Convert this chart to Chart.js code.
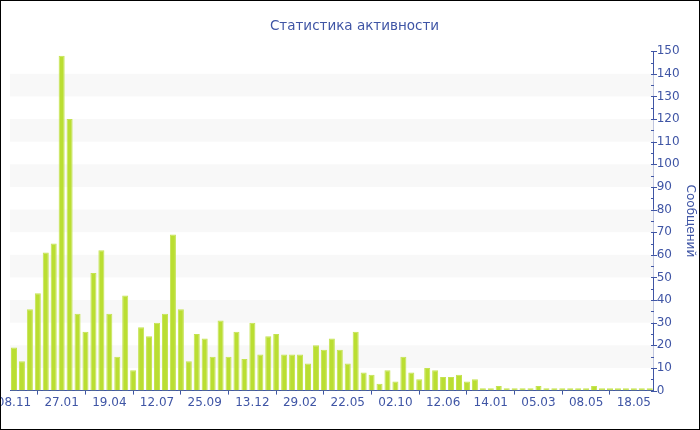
<!DOCTYPE html>
<html>
<head>
<meta charset="utf-8">
<script src="https://cdn.jsdelivr.net/npm/chart.js@4.4.1/dist/chart.umd.min.js"></script>
<style>
  html, body { margin: 0; padding: 0; background: #fff; }
  #wrap { width: 700px; height: 430px; border: 1px solid #000; box-sizing: border-box; }
  canvas { display: block; }
</style>
</head>
<body>
<div id="wrap"><canvas id="myChart" width="698" height="428"></canvas></div>
<script>
// visible tick labels, one every 6 categories
var tickLabels = ['08.11', '27.01', '19.04', '12.07', '25.09', '13.12', '29.02',
                  '22.05', '02.10', '12.06', '14.01', '05.03', '08.05', '18.05'];
// messages per period
var messages = [19, 13, 36, 43, 61, 65, 148, 120, 34, 26, 52, 62, 34, 15, 42, 9, 28, 24, 30, 34,
                69, 36, 13, 25, 23, 15, 31, 15, 26, 14, 30, 16, 24, 25, 16, 16, 16, 12, 20, 18,
                23, 18, 12, 26, 8, 7, 3, 9, 4, 15, 8, 5, 10, 9, 6, 6, 7, 4, 5, 1,
                1, 2, 1, 1, 1, 1, 2, 1, 1, 1, 1, 1, 1, 2, 1, 1, 1, 1, 1, 1, 1];
var labelEvery = 6;

var blue = '#3f55a5';
var labels = messages.map(function (v, i) {
  return i % labelEvery === 0 ? tickLabels[i / labelEvery] : '';
});

// grey bands every other 10 messages
var bands = {
  id: 'bands',
  beforeDatasetsDraw(chart) {
    var ctx = chart.ctx, area = chart.chartArea, y = chart.scales.y;
    ctx.save();
    ctx.fillStyle = '#f8f8f8';
    for (var v = 10; v < 150; v += 20) {
      var top = y.getPixelForValue(v + 10), bot = y.getPixelForValue(v);
      ctx.fillRect(area.left, top, area.right - area.left, bot - top);
    }
    ctx.restore();
  }
};

// tick marks on the right axis: long ones at tens, short ones at fives
var yTicks = {
  id: 'yTicks',
  afterDraw(chart) {
    var ctx = chart.ctx, y = chart.scales.y, x0 = Math.round(chart.chartArea.right);
    ctx.save();
    ctx.strokeStyle = blue;
    ctx.lineWidth = 1;
    for (var v = 0; v <= 150; v += 5) {
      var py = Math.round(y.getPixelForValue(v)) + 0.5;
      ctx.beginPath();
      if (v % 10 === 0) { ctx.moveTo(x0 - 3, py); ctx.lineTo(x0 + 3, py); }
      else { ctx.moveTo(x0 - 3, py); ctx.lineTo(x0, py); }
      ctx.stroke();
    }
    ctx.restore();
  }
};

var ctx = document.getElementById('myChart').getContext('2d');
var myChart = new Chart(ctx, {
  type: 'bar',
  data: {
    labels: labels,
    datasets: [{
      label: 'Сообщений',
      data: messages,
      backgroundColor: '#bade32',
      borderColor: '#c4e350',
      borderWidth: 1,
      barPercentage: 0.76,
      categoryPercentage: 1
    }]
  },
  plugins: [bands, yTicks],
  options: {
    responsive: false,
    animation: false,
    layout: { padding: { left: 9, right: 0, top: 0, bottom: 18 } },
    plugins: {
      legend: { display: false },
      tooltip: { enabled: false },
      title: {
        display: true,
        text: 'Статистика активности',
        color: blue,
        font: { family: 'DejaVu Sans', size: 13.5, weight: 'normal' },
        padding: { top: 17, bottom: 17 }
      }
    },
    scales: {
      x: {
        offset: true,
        afterFit: function (scale) { scale.paddingLeft = 0; scale.paddingRight = 0; },
        border: { color: blue, width: 1 },
        grid: { display: true, drawOnChartArea: false, color: blue, tickLength: 4 },
        ticks: {
          autoSkip: false,
          maxRotation: 0,
          minRotation: 0,
          padding: 1,
          color: blue,
          font: { family: 'DejaVu Sans', size: 12 },
          callback: function (val, i) {
            return i % labelEvery === 0 ? this.getLabelForValue(val) : null;
          }
        }
      },
      y: {
        position: 'right',
        min: 0,
        max: 150,
        border: { color: blue, width: 1 },
        grid: { display: false, drawTicks: false },
        ticks: {
          stepSize: 10,
          padding: 3,
          color: blue,
          font: { family: 'DejaVu Sans', size: 12 }
        },
        title: {
          display: true,
          text: 'Сообщений',
          color: blue,
          font: { family: 'DejaVu Sans', size: 12 },
          padding: { top: 2, bottom: 0 }
        }
      }
    }
  }
});
</script>
</body>
</html>
